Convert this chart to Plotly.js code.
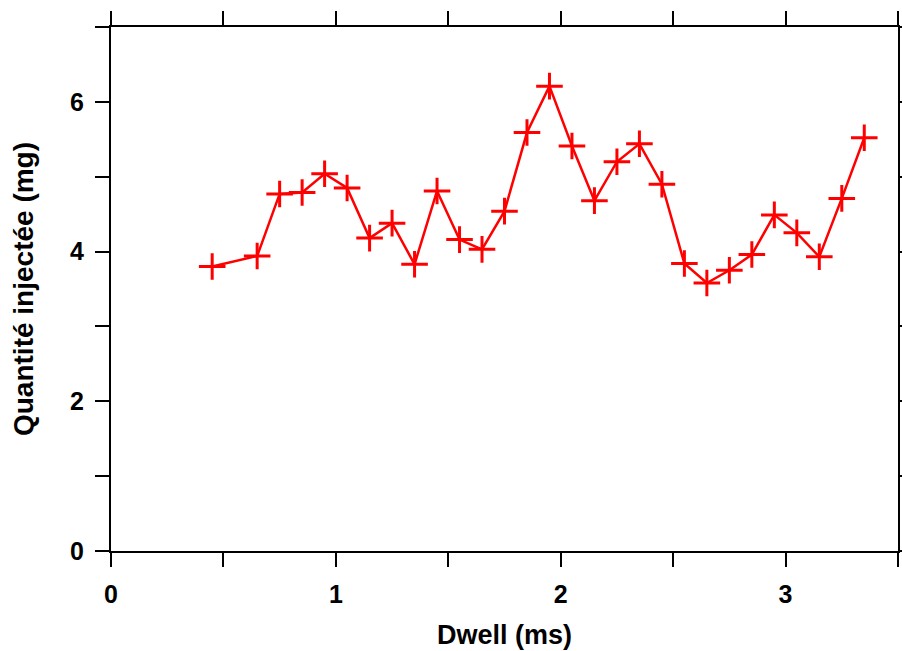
<!DOCTYPE html>
<html>
<head>
<meta charset="utf-8">
<script src="https://cdn.plot.ly/plotly-3.0.1.min.js"></script>
<style>html,body{margin:0;padding:0;background:#fff;}#chart{width:902px;height:651px;}</style>
</head>
<body>
<div id="chart"></div>
<script>
const dwell = [0.45, 0.65, 0.75, 0.85, 0.95, 1.05, 1.15, 1.25, 1.35, 1.45, 1.55, 1.65, 1.75, 1.85, 1.95, 2.05, 2.15, 2.25, 2.35, 2.45, 2.55, 2.65, 2.75, 2.85, 2.95, 3.05, 3.15, 3.25, 3.35];
const quantite = [3.80, 3.94, 4.77, 4.79, 5.04, 4.85, 4.18, 4.38, 3.83, 4.81, 4.16, 4.03, 4.54, 5.59, 6.21, 5.41, 4.68, 5.20, 5.44, 4.90, 3.84, 3.58, 3.75, 3.96, 4.49, 4.25, 3.93, 4.71, 5.52];
const xTickVals = [0, 0.5, 1, 1.5, 2, 2.5, 3, 3.5];
const xTickText = ['0', '', '1', '', '2', '', '3', ''];
const yTickVals = [0, 1, 2, 3, 4, 5, 6, 7];
const yTickText = ['0', '', '2', '', '4', '', '6', ''];
const xTitle = 'Dwell (ms)';
const yTitle = 'Quantité injectée (mg)';

const fontFam = 'Liberation Sans, Arial, sans-serif';
const trace = {
  x: dwell, y: quantite, type: 'scatter', mode: 'lines+markers',
  line: {color: '#ff0000', width: 2.5},
  marker: {symbol: 'cross-thin-open', size: 19, color: '#ff0000', line: {color: '#ff0000', width: 3}},
  showlegend: false, cliponaxis: false
};
const axisCommon = {
  showgrid: false, zeroline: false, showline: true, linecolor: '#000', linewidth: 2,
  ticks: 'outside', ticklen: 14, tickwidth: 2, tickcolor: '#000', mirror: 'ticks',
  tickmode: 'array',
  tickfont: {family: fontFam, size: 25, color: '#000', weight: 'bold'}
};
const layout = {
  width: 902, height: 651,
  margin: {l: 111, r: 4, t: 27, b: 100},
  paper_bgcolor: '#fff', plot_bgcolor: '#fff',
  xaxis: Object.assign({}, axisCommon, {
    range: [0, 3.5], tickvals: xTickVals, ticktext: xTickText, ticklabelstandoff: 6,
    title: {text: xTitle, font: {family: fontFam, size: 27, color: '#000', weight: 'bold'}, standoff: 18}
  }),
  yaxis: Object.assign({}, axisCommon, {
    range: [0, 7], tickvals: yTickVals, ticktext: yTickText, ticklabelstandoff: 6,
    title: {text: yTitle, font: {family: fontFam, size: 28, color: '#000', weight: 'bold'}, standoff: 28}
  })
};
Plotly.newPlot('chart', [trace], layout, {staticPlot: true, displayModeBar: false});
</script>
</body>
</html>
